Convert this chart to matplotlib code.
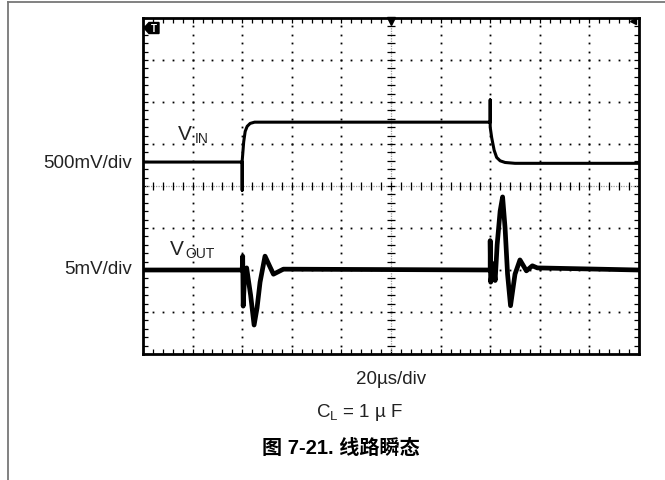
import numpy as np
import matplotlib
matplotlib.use("Agg")
import matplotlib.pyplot as plt
from matplotlib.lines import Line2D
from matplotlib.patches import Polygon
from matplotlib.ticker import MultipleLocator

# scope traces, x in divisions (20us/div), y in divisions from screen centre
vin_t = [0.0, 2.0, 2.0, 2.0, 2.03, 2.06, 2.1, 2.16, 2.25, 2.4, 7.0, 7.0, 7.0,
         7.03, 7.08, 7.13, 7.2, 7.3, 7.5, 10.0]
vin_v = [0.57, 0.57, -0.1, 0.6, 1.05, 1.3, 1.42, 1.49, 1.52, 1.52, 1.52, 2.05, 1.4,
         1.15, 0.85, 0.68, 0.6, 0.56, 0.54, 0.54]

vout_t = [0.0, 2.0, 2.01, 2.02, 2.05, 2.09, 2.12, 2.17, 2.24, 2.3, 2.36, 2.46, 2.55,
          2.63, 2.83, 7.0, 7.0, 7.01, 7.06, 7.1, 7.14, 7.2, 7.25, 7.3, 7.35, 7.41,
          7.5, 7.6, 7.73, 7.85, 7.95, 10.0]
vout_v = [-2.0, -2.0, -1.67, -2.86, -2.1, -1.95, -2.2, -2.6, -3.31, -2.9, -2.29, -1.67, -1.9,
          -2.1, -1.98, -2.0, -1.3, -2.29, -1.85, -2.25, -1.4, -0.6, -0.26, -1.0, -2.1, -2.85,
          -2.1, -1.76, -2.02, -1.9, -1.95, -2.0]

W, H = 665, 481

def fx(x):
    return x / W

def fy(y):
    return 1 - y / H

fig = plt.figure(figsize=(6.65, 4.81), dpi=100)
fig.patch.set_facecolor("white")

# page border lines
fig.add_artist(Line2D([fx(8), fx(665)], [fy(3), fy(3)], color="#777777", lw=1.3))
fig.add_artist(Line2D([fx(8), fx(8)], [fy(3), fy(481)], color="#777777", lw=1.3))

ax = fig.add_axes([fx(143), fy(355), (639 - 143) / W, (355 - 19) / H])
ax.set_xlim(0, 10)
ax.set_ylim(-4, 4)
for s in ax.spines.values():
    s.set_linewidth(2.0)
ax.xaxis.set_major_locator(MultipleLocator(1))
ax.yaxis.set_major_locator(MultipleLocator(1))
ax.xaxis.set_minor_locator(MultipleLocator(0.2))
ax.yaxis.set_minor_locator(MultipleLocator(0.2))
ax.tick_params(which="both", direction="in", length=3.5, width=0.9, top=True, right=True,
               labelbottom=False, labelleft=False)

# dotted graticule
ys = np.arange(-4, 4.01, 0.2)
xs = np.arange(0, 10.01, 0.2)
for gx in range(1, 10):
    if gx != 5:
        ax.plot([gx] * len(ys), ys, ls="none", marker="s", ms=1.3, mew=0, color="black")
for gy in range(-3, 4):
    if gy != 0:
        ax.plot(xs, [gy] * len(xs), ls="none", marker="s", ms=1.3, mew=0, color="black")

# centre crosshair with ticks
ax.axhline(0, color="#999999", lw=0.9, ls=(0, (1, 1)))
ax.axvline(5, color="#999999", lw=0.9, ls=(0, (1, 1)))
ax.plot(xs, [0] * len(xs), ls="none", marker="|", ms=6, mew=0.9, color="black")
ax.plot([5] * len(ys), ys, ls="none", marker="_", ms=6, mew=0.9, color="black")

# traces
ax.plot(vin_t, vin_v, color="black", lw=2.2, solid_joinstyle="round")
ax.plot(vout_t, vout_v, color="black", lw=3.4, solid_joinstyle="round")

# trigger markers
def d(px, py):
    return ((px - 143) / 49.6, (187 - py) / 42.0)

ax.add_patch(Polygon([d(144, 29), d(149, 23.5), d(159, 23.5), d(159, 34.5), d(149, 34.5)],
                     closed=True, color="black", clip_on=False))
ax.text(*d(153.5, 29.3), "T", color="white", fontsize=7, fontweight="bold",
        ha="center", va="center", family="Liberation Sans")
ax.plot(*d(391, 21.5), marker="v", ms=6, color="black", clip_on=False)
ax.plot(*d(633, 22), marker="<", ms=5, color="black", clip_on=False)

lab = dict(family="Liberation Sans", color="#222222")
fig.text(fx(132), fy(164), "500mV/div", ha="right", va="center", fontsize=13.5, **lab)
fig.text(fx(132), fy(270), "5mV/div", ha="right", va="center", fontsize=13.5, **lab)
fig.text(fx(178), fy(140), "V", ha="left", va="baseline", fontsize=15, **lab)
fig.text(fx(195), fy(143), "IN", ha="left", va="baseline", fontsize=10, **lab)
fig.text(fx(170), fy(255), "V", ha="left", va="baseline", fontsize=15, **lab)
fig.text(fx(185), fy(258), "OUT", ha="left", va="baseline", fontsize=10, **lab)

fig.text(fx(391), fy(380), "20\u00b5s/div", ha="center", va="center", fontsize=13.5, **lab)
plt.rcParams["mathtext.fontset"] = "custom"
plt.rcParams["mathtext.rm"] = "Liberation Sans"
fig.text(fx(360), fy(413), "$\\mathregular{C_L}$ = 1 \u00b5 F",
         ha="center", va="center", fontsize=13.5, **lab)
fig.text(fx(341), fy(448), "图 7-21. 线路瞬态", ha="center", va="center", fontsize=14.5,
         fontweight="bold", family=["Liberation Sans", "Noto Sans CJK SC"], color="black")

fig.savefig("out.png", dpi=100)
